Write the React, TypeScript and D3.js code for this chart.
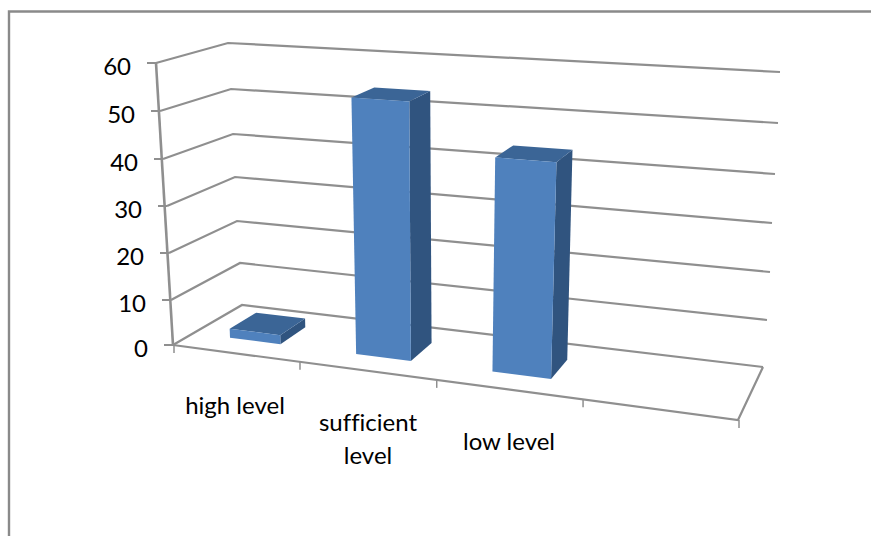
import React from "react";
import * as d3 from "d3";

// Chart content
const categories = ["high level", "sufficient level", "low level"];
const values = [2, 54, 44];
const valueTicks = [0, 10, 20, 30, 40, 50, 60];
const slotCount = 4;

const WIDTH = 871;
const HEIGHT = 536;
const FONT = "Lato, 'Open Sans', sans-serif";
const FONT_SIZE = 24;
const GRID = "#8f8f8f";
const FRONT = "#4f81bd";
const SIDE = "#30547f";
const TOP = "#3b6596";

type Pt = [number, number];

// Wall corners of the 3D box, listed from value 0 up to value 60.
const frontLeftX = [173, 171, 169, 167, 163, 160, 156];
const frontLeftY = [345, 300, 253, 206, 159, 111, 63];
const backLeftX = [242, 240, 237, 235, 233, 231, 228];
const backLeftY = [305, 263, 221, 177, 134, 89, 43];
const backRightX = [763, 767, 770, 772, 775, 778, 780];
const backRightY = [367, 320, 272, 223, 174, 123, 72];

const edge = (xs: number[], ys: number[]) => {
  const x = d3.scaleLinear().domain(valueTicks).range(xs);
  const y = d3.scaleLinear().domain(valueTicks).range(ys);
  return (v: number): Pt => [x(v), y(v)];
};

const frontLeft = edge(frontLeftX, frontLeftY);
const backLeft = edge(backLeftX, backLeftY);
const backRight = edge(backRightX, backRightY);
// The fourth vertical edge is not drawn, it only anchors the projection.
const frontRight = (v: number): Pt => {
  const t = v / 60;
  return [738 + 20 * t, 420 - 315 * t];
};

// Category slots widen towards the viewer's right.
const slotScale = d3
  .scaleLinear()
  .domain([0, 1, 2, 3, 4])
  .range([0, 0.223, 0.465, 0.724, 1]);

const mix = (a: Pt, b: Pt, t: number): Pt => [
  a[0] + (b[0] - a[0]) * t,
  a[1] + (b[1] - a[1]) * t,
];

// Projects (category position, value, depth) onto the page.
const project = (c: number, v: number, depth: number): Pt => {
  const f = slotScale(c);
  const near = mix(frontLeft(v), frontRight(v), f);
  const far = mix(backLeft(v), backRight(v), f);
  return mix(near, far, depth);
};

const poly = (pts: Pt[]) => d3.line()(pts) + "Z";

const BAR_HALF = 0.205;
const DEPTH_NEAR = 0.3;
const DEPTH_FAR = 0.7;

// Category labels are placed by hand, as the chart wraps them in its own way.
const labelAnchors: { x: number; lines: number[] }[] = [
  { x: 235, lines: [414] },
  { x: 368, lines: [431, 464] },
  { x: 509, lines: [450] },
];
const labelLines = (name: string) =>
  name === "sufficient level" ? ["sufficient", "level"] : [name];

const textStyle = { fontVariantLigatures: "none" } as const;

export default function App() {
  const front0 = frontLeft(0);
  const frontEnd = frontRight(0);
  const backEnd = backRight(0);
  return (
    <svg
      width={WIDTH}
      height={HEIGHT}
      style={{ position: "fixed", left: 0, top: 0, background: "#fff" }}
    >
      <path
        d={`M9,${HEIGHT}V11.5H${WIDTH}`}
        fill="none"
        stroke="#8a8a8a"
        strokeWidth={2.4}
      />

      {/* Gridlines across the side and back walls */}
      {valueTicks.map((v) => (
        <path
          key={v}
          d={d3.line()([frontLeft(v), backLeft(v), backRight(v)]) ?? ""}
          fill="none"
          stroke={GRID}
          strokeWidth={2.2}
        />
      ))}

      {/* Value axis with its ticks and labels */}
      <path
        d={d3.line()([frontLeft(60), frontLeft(0)]) ?? ""}
        stroke={GRID}
        strokeWidth={2.6}
        fill="none"
      />
      {valueTicks.map((v) => {
        const [x, y] = frontLeft(v);
        return (
          <g key={v}>
            <line x1={x - 9} x2={x} y1={y} y2={y} stroke={GRID} strokeWidth={2} />
            <text
              x={x - 25}
              y={y + 12}
              textAnchor="end"
              fontFamily={FONT}
              fontSize={FONT_SIZE}
              fill="#000"
              style={textStyle}
            >
              {v}
            </text>
          </g>
        );
      })}

      {/* Floor edges and category ticks */}
      <path
        d={d3.line()([front0, frontEnd, backEnd]) ?? ""}
        stroke={GRID}
        strokeWidth={2.2}
        fill="none"
      />
      {d3.range(slotCount + 1).map((c) => {
        const [x, y] = project(c, 0, 0);
        return (
          <line
            key={c}
            x1={x + 1}
            x2={x + 1}
            y1={y}
            y2={y + 8}
            stroke={GRID}
            strokeWidth={1.5}
          />
        );
      })}

      {/* Bars */}
      {values.map((v, i) => {
        const l = i + 0.5 - BAR_HALF;
        const r = i + 0.5 + BAR_HALF;
        return (
          <g key={categories[i]}>
            <path
              d={poly([
                project(r, 0, DEPTH_NEAR),
                project(r, 0, DEPTH_FAR),
                project(r, v, DEPTH_FAR),
                project(r, v, DEPTH_NEAR),
              ])}
              fill={SIDE}
            />
            <path
              d={poly([
                project(l, v, DEPTH_NEAR),
                project(r, v, DEPTH_NEAR),
                project(r, v, DEPTH_FAR),
                project(l, v, DEPTH_FAR),
              ])}
              fill={TOP}
            />
            <path
              d={poly([
                project(l, 0, DEPTH_NEAR),
                project(r, 0, DEPTH_NEAR),
                project(r, v, DEPTH_NEAR),
                project(l, v, DEPTH_NEAR),
              ])}
              fill={FRONT}
            />
          </g>
        );
      })}

      {/* Category labels */}
      {categories.map((name, i) =>
        labelLines(name).map((line, j) => (
          <text
            key={line}
            x={labelAnchors[i].x}
            y={labelAnchors[i].lines[j]}
            textAnchor="middle"
            fontFamily={FONT}
            fontSize={FONT_SIZE}
            fill="#000"
            style={textStyle}
          >
            {line}
          </text>
        ))
      )}
    </svg>
  );
}
